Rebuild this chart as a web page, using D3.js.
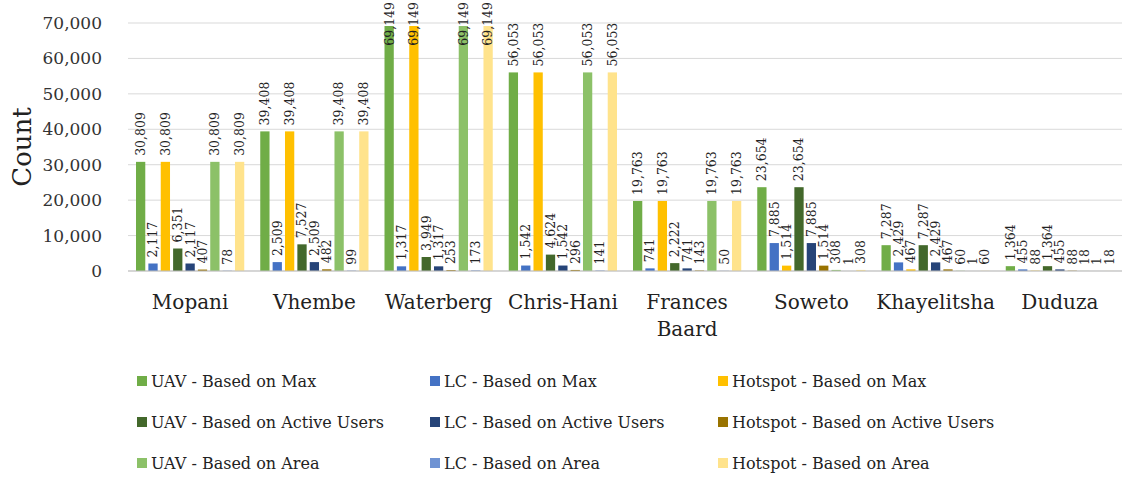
<!DOCTYPE html>
<html>
<head>
<meta charset="utf-8">
<script src="https://cdn.jsdelivr.net/npm/d3@7"></script>
<style>
  body { margin: 0; background: #fff; }
  svg { display: block; font-family: "DejaVu Serif", serif; }
</style>
</head>
<body>
<svg id="chart"></svg>
<script>
const categories = ['Mopani', 'Vhembe', 'Waterberg', 'Chris-Hani', 'Frances Baard', 'Soweto', 'Khayelitsha', 'Duduza'];

const seriesNames = [
  'UAV - Based on Max', 'LC - Based on Max', 'Hotspot - Based on Max',
  'UAV - Based on Active Users', 'LC - Based on Active Users', 'Hotspot - Based on Active Users',
  'UAV - Based on Area', 'LC - Based on Area', 'Hotspot - Based on Area'
];
const seriesColors = ['#70ad47', '#4472c4', '#ffc000', '#43682b', '#264478', '#997300', '#8cc168', '#6f93d3', '#ffe38c'];

const uavMax        = [30809, 39408, 69149, 56053, 19763, 23654, 7287, 1364];
const lcMax         = [2117, 2509, 1317, 1542, 741, 7885, 2429, 455];
const hotspotMax    = [30809, 39408, 69149, 56053, 19763, 1514, 467, 88];
const uavActive     = [6351, 7527, 3949, 4624, 2222, 23654, 7287, 1364];
const lcActive      = [2117, 2509, 1317, 1542, 741, 7885, 2429, 455];
const hotspotActive = [407, 482, 253, 296, 143, 1514, 467, 88];
const uavArea       = [30809, 39408, 69149, 56053, 19763, 308, 60, 18];
const lcArea        = [78, 99, 173, 141, 50, 1, 1, 1];
const hotspotArea   = [30809, 39408, 69149, 56053, 19763, 308, 60, 18];

const yTicks = [0, 10000, 20000, 30000, 40000, 50000, 60000, 70000];

const seriesValues = [uavMax, lcMax, hotspotMax, uavActive, lcActive, hotspotActive, uavArea, lcArea, hotspotArea];

const svgWidth = 1123;
const svgHeight = 477;
const margin = { top: 23, right: 1, bottom: 206, left: 128 };
const height = svgHeight - margin.top - margin.bottom;

const svg = d3.select('#chart')
  .attr('width', svgWidth)
  .attr('height', svgHeight);

const fmt = d3.format(',');

// Scales
const x0 = d3.scaleBand()
  .domain(categories)
  .range([margin.left, svgWidth - margin.right])
  .padding(0);

const x1 = d3.scaleBand()
  .domain(d3.range(seriesNames.length))
  .range([8, x0.bandwidth() - 8])
  .paddingInner(0.25)
  .paddingOuter(0);

const y = d3.scaleLinear()
  .domain([0, 70000])
  .range([margin.top + height, margin.top]);

// Gridlines
svg.append('g')
  .selectAll('line')
  .data(yTicks)
  .enter()
  .append('line')
  .attr('x1', margin.left)
  .attr('x2', svgWidth - margin.right)
  .attr('y1', (d) => y(d))
  .attr('y2', (d) => y(d))
  .attr('stroke', '#d9d9d9')
  .attr('stroke-width', 1);

// Y axis
const yAxis = svg.append('g')
  .attr('transform', `translate(${margin.left - 26},0)`)
  .call(d3.axisLeft(y).tickValues(yTicks).tickFormat(fmt).tickSize(0).tickPadding(0));
yAxis.select('.domain').remove();
yAxis.selectAll('text')
  .attr('font-family', '"DejaVu Serif", serif')
  .attr('font-size', 17)
  .attr('fill', '#333');

svg.append('text')
  .attr('transform', `translate(31,${y(35000)}) rotate(-90)`)
  .attr('text-anchor', 'middle')
  .attr('font-size', 26)
  .attr('fill', '#222')
  .text('Count');

// Bars
const groups = svg.append('g')
  .selectAll('g')
  .data(categories)
  .enter()
  .append('g')
  .attr('transform', (d) => `translate(${x0(d)},0)`);

groups.selectAll('rect')
  .data((d, i) => seriesValues.map((vals, s) => ({ s, v: vals[i] })))
  .enter()
  .append('rect')
  .attr('x', (d) => x1(d.s))
  .attr('y', (d) => y(d.v))
  .attr('width', x1.bandwidth())
  .attr('height', (d) => y(0) - y(d.v))
  .attr('fill', (d) => seriesColors[d.s]);

// Data labels, rotated, kept inside the chart top
groups.selectAll('text.lbl')
  .data((d, i) => seriesValues.map((vals, s) => ({ s, v: vals[i] })))
  .enter()
  .append('text')
  .attr('class', 'lbl')
  .attr('font-size', 12.5)
  .attr('fill', '#222')
  .attr('dy', '0.35em')
  .text((d) => fmt(d.v))
  .each(function (d) {
    const len = this.getComputedTextLength();
    const cx = x1(d.s) + x1.bandwidth() / 2;
    let base = y(d.v) - 6;
    if (base - len < 2) base = 2 + len;
    d3.select(this).attr('transform', `translate(${cx},${base}) rotate(-90)`);
  });

// X axis line
svg.append('line')
  .attr('x1', margin.left)
  .attr('x2', svgWidth - margin.right)
  .attr('y1', y(0))
  .attr('y2', y(0))
  .attr('stroke', '#bfbfbf');

// Category labels, wrapped when too wide
svg.append('g')
  .selectAll('text')
  .data(categories)
  .enter()
  .append('text')
  .attr('x', (d) => x0(d) + x0.bandwidth() / 2)
  .attr('y', y(0) + 38)
  .attr('text-anchor', 'middle')
  .attr('font-size', 20)
  .attr('fill', '#222')
  .text((d) => d)
  .each(function (d) {
    const el = d3.select(this);
    if (this.getComputedTextLength() > x0.bandwidth() - 4) {
      const words = d.split(' ');
      el.text(null);
      words.forEach((w, k) => {
        el.append('tspan')
          .attr('x', x0(d) + x0.bandwidth() / 2)
          .attr('dy', k === 0 ? 0 : 27)
          .text(w);
      });
    }
  });

// Legend
const legendCols = [137, 430, 718];
const legendRows = [381, 422, 463];
const legend = svg.append('g')
  .selectAll('g')
  .data(seriesNames)
  .enter()
  .append('g')
  .attr('transform', (d, i) => `translate(${legendCols[i % 3]},${legendRows[Math.floor(i / 3)]})`);

legend.append('rect')
  .attr('x', 0)
  .attr('y', -5)
  .attr('width', 10)
  .attr('height', 10)
  .attr('fill', (d, i) => seriesColors[i]);

legend.append('text')
  .attr('x', 14)
  .attr('dy', '0.35em')
  .attr('font-size', 16)
  .attr('fill', '#222')
  .text((d) => d);
</script>
</body>
</html>
